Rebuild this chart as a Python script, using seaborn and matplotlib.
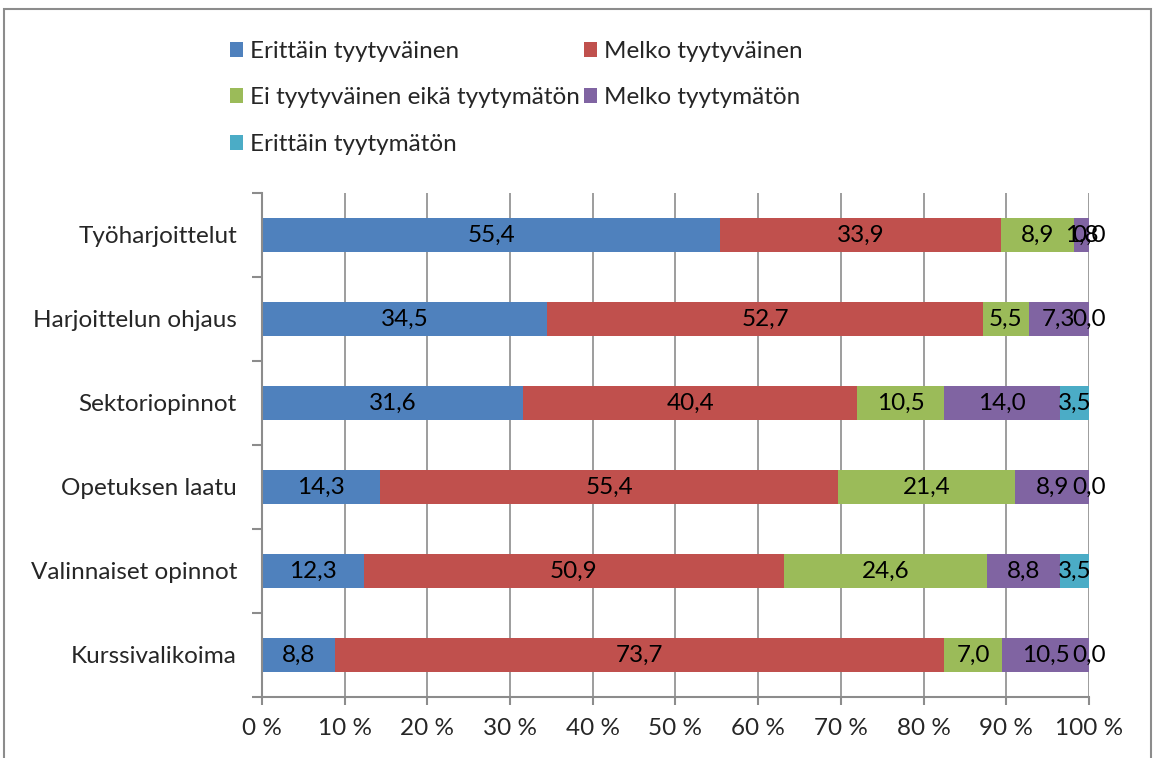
"""Stacked 100 % satisfaction bars (Finnish survey)."""

import matplotlib

matplotlib.use("Agg", force=True)

import matplotlib.pyplot as plt
import numpy as np
import seaborn as sns
from matplotlib.patches import Patch, Rectangle

categories = [
    "Työharjoittelut",
    "Harjoittelun ohjaus",
    "Sektoriopinnot",
    "Opetuksen laatu",
    "Valinnaiset opinnot",
    "Kurssivalikoima",
]
series_names = [
    "Erittäin tyytyväinen",
    "Melko tyytyväinen",
    "Ei tyytyväinen eikä tyytymätön",
    "Melko tyytymätön",
    "Erittäin tyytymätön",
]
erittain_tyytyvainen = [55.4, 34.5, 31.6, 14.3, 12.3, 8.8]
melko_tyytyvainen = [33.9, 52.7, 40.4, 55.4, 50.9, 73.7]
ei_kumpikaan = [8.9, 5.5, 10.5, 21.4, 24.6, 7.0]
melko_tyytymaton = [1.8, 7.3, 14.0, 8.9, 8.8, 10.5]
erittain_tyytymaton = [0.0, 0.0, 3.5, 0.0, 3.5, 0.0]
x_ticks = [0.0, 0.1, 0.2, 0.3, 0.4, 0.5, 0.6, 0.7, 0.8, 0.9, 1.0]
x_tick_labels = ["0 %", "10 %", "20 %", "30 %", "40 %", "50 %",
                 "60 %", "70 %", "80 %", "90 %", "100 %"]

colors = ["#4F81BD", "#C0504D", "#9BBB59", "#8064A2", "#4BACC6"]
grey = "#8c8c8c"
fs = 17.5

sns.set_style("white")
plt.rcParams["font.family"] = ["Lato", "DejaVu Sans"]

values = np.array([erittain_tyytyvainen, melko_tyytyvainen, ei_kumpikaan,
                   melko_tyytymaton, erittain_tyytymaton]).T
shares = values / values.sum(axis=1, keepdims=True)
cum = np.cumsum(shares, axis=1)

fig = plt.figure(figsize=(11.54, 7.58), dpi=100)
ax = fig.add_axes([0.227, 0.0805, 0.7167, 0.665])

# draw cumulative layers back to front so each segment shows
for i in range(len(series_names) - 1, -1, -1):
    sns.barplot(x=cum[:, i], y=categories, color=colors[i], saturation=1,
                width=0.4, orient="h", ax=ax, linewidth=0)

for r in range(len(categories)):
    for i in range(len(series_names)):
        left = cum[r, i] - shares[r, i]
        txt = f"{values[r, i]:.1f}".replace(".", ",")
        ax.text(left + shares[r, i] / 2, r, txt, ha="center", va="center",
                fontsize=fs, color="black")

ax.set_xlim(0, 1)
ax.set_ylim(5.5, -0.5)
ax.set_xticks(x_ticks)
ax.set_xticklabels(x_tick_labels, fontsize=fs)
ax.set_yticks(range(len(categories)))
ax.set_yticklabels(categories, fontsize=fs)
ax.set_yticks(np.arange(-0.5, 6, 1), minor=True)
ax.tick_params(axis="y", which="major", length=0, pad=18)
ax.tick_params(axis="y", which="minor", length=7, width=1.5, color=grey,
               direction="out", left=True)
ax.tick_params(axis="x", length=6, width=1.5, color=grey, direction="out",
               bottom=True, pad=9)
ax.set_xlabel("")
ax.set_ylabel("")
ax.grid(axis="x", color=grey, lw=1.2)
ax.set_axisbelow(True)
for side in ["top", "right"]:
    ax.spines[side].set_visible(False)
for side in ["left", "bottom"]:
    ax.spines[side].set_color(grey)
    ax.spines[side].set_linewidth(1.5)

# legend reads row by row, matplotlib fills column by column
order = [0, 2, 4, 1, 3]
handles = [Patch(facecolor=colors[k], edgecolor="none") for k in order]
labels = [series_names[k] for k in order]
fig.legend(handles, labels, loc="upper left",
           bbox_to_anchor=(0.18, 0.975), ncol=2, frameon=False,
           fontsize=fs, handlelength=0.55, handleheight=0.55,
           handletextpad=0.3, columnspacing=0.15, labelspacing=1.05)

fig.patches.append(Rectangle((4 / 1154, -0.1), 1147 / 1154, 1.1 - 9 / 758,
                             transform=fig.transFigure, fill=False,
                             edgecolor=grey, lw=1.5))

fig.savefig("out.png", dpi=100)
plt.close(fig)
